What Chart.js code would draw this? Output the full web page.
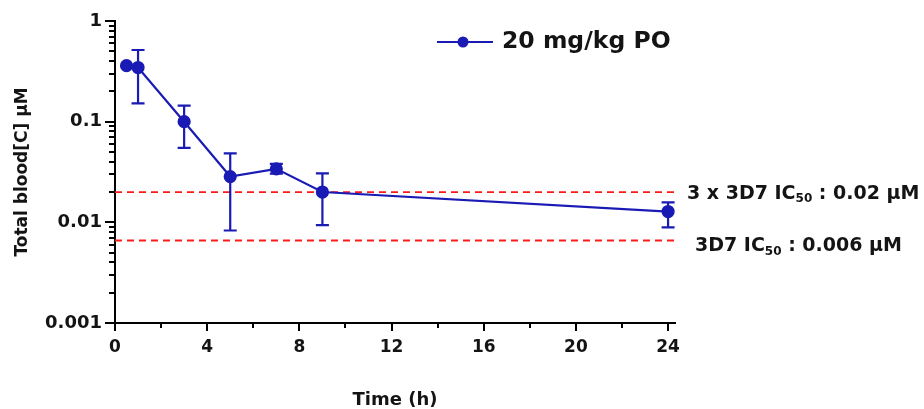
<!DOCTYPE html>
<html>
<head>
<meta charset="utf-8">
<script src="https://cdn.jsdelivr.net/npm/chart.js@4"></script>
<style>
  html, body { margin: 0; background: #fff; }
  #wrap { width: 924px; height: 409px; }
</style>
</head>
<body>
<div id="wrap"><canvas id="pkChart"></canvas></div>
<script>
// ------------------------------------------------------------------
// Data
// ------------------------------------------------------------------
const timeH     = [0.5, 1, 3, 5, 7, 9, 24];
const concMean  = [0.36, 0.345, 0.10, 0.0285, 0.034, 0.020, 0.0128];
const concLow   = [0.36, 0.152, 0.055, 0.0083, 0.0305, 0.0094, 0.0089];
const concHigh  = [0.36, 0.515, 0.144, 0.0485, 0.038, 0.0307, 0.0158];
const seriesLabel = '20 mg/kg PO';

const thresholds = [0.02, 0.0066];
const thresholdLabels = [
  ['3 x 3D7 IC', '50', ' : 0.02 μM'],
  ['3D7 IC', '50', ' : 0.006 μM'],
];

const xTicks = [0, 4, 8, 12, 16, 20, 24];
const xMinorTicks = [2, 6, 10, 14, 18, 22];
const yTicks = [0.001, 0.01, 0.1, 1];

const X_MAX = 24.3;
const BLUE = '#1a1ab4';
const RED = '#ff1a1a';
const INK = '#141414';
const FONT = '"DejaVu Sans", sans-serif';

// ------------------------------------------------------------------
// Extra drawing: error bars, minor ticks, legend, threshold labels
// ------------------------------------------------------------------
const extras = {
  id: 'extras',
  afterDatasetsDraw(chart) {
    const { ctx, scales: { x, y } } = chart;
    ctx.save();
    ctx.strokeStyle = BLUE;
    ctx.lineWidth = 2.2;
    timeH.forEach((t, i) => {
      if (concLow[i] === concHigh[i]) return;
      const px = x.getPixelForValue(t);
      const yl = y.getPixelForValue(concLow[i]);
      const yh = y.getPixelForValue(concHigh[i]);
      ctx.beginPath();
      ctx.moveTo(px, yl); ctx.lineTo(px, yh);
      ctx.moveTo(px - 6.5, yl); ctx.lineTo(px + 6.5, yl);
      ctx.moveTo(px - 6.5, yh); ctx.lineTo(px + 6.5, yh);
      ctx.stroke();
    });
    ctx.restore();
  },
  afterDraw(chart) {
    const { ctx, chartArea, scales: { x, y } } = chart;
    ctx.save();
    // minor ticks
    ctx.strokeStyle = '#000';
    ctx.lineWidth = 2;
    ctx.beginPath();
    [0.001, 0.01, 0.1].forEach(d => {
      for (let k = 2; k <= 9; k++) {
        const py = Math.round(y.getPixelForValue(k * d));
        ctx.moveTo(chartArea.left - 6, py);
        ctx.lineTo(chartArea.left, py);
      }
    });
    xMinorTicks.forEach(v => {
      const px = Math.round(x.getPixelForValue(v));
      ctx.moveTo(px, chartArea.bottom);
      ctx.lineTo(px, chartArea.bottom + 5);
    });
    ctx.stroke();

    // legend
    ctx.strokeStyle = BLUE;
    ctx.fillStyle = BLUE;
    ctx.lineWidth = 2;
    ctx.beginPath();
    ctx.moveTo(437, 42); ctx.lineTo(493, 42);
    ctx.stroke();
    ctx.beginPath();
    ctx.arc(463, 42, 5.5, 0, Math.PI * 2);
    ctx.fill();
    ctx.fillStyle = INK;
    ctx.font = `bold 23.5px ${FONT}`;
    ctx.textBaseline = 'middle';
    ctx.fillText(seriesLabel, 502, 42);

    // threshold labels
    const offsets = [2, 6];
    thresholds.forEach((v, i) => {
      const [pre, sub, post] = thresholdLabels[i];
      const py = y.getPixelForValue(v) + offsets[i];
      let px = i === 0 ? 687 : 695;
      ctx.font = `bold 19px ${FONT}`;
      ctx.fillText(pre, px, py);
      px += ctx.measureText(pre).width;
      ctx.font = `bold 12px ${FONT}`;
      ctx.fillText(sub, px, py + 5);
      px += ctx.measureText(sub).width;
      ctx.font = `bold 19px ${FONT}`;
      ctx.fillText(post, px, py);
    });
    ctx.restore();
  },
};

// ------------------------------------------------------------------
// Chart
// ------------------------------------------------------------------
const ctx = document.getElementById('pkChart');

new Chart(ctx, {
  type: 'scatter',
  data: {
    datasets: [
      {
        label: seriesLabel,
        data: timeH.map((t, i) => ({ x: t, y: concMean[i] })),
        showLine: true,
        borderColor: BLUE,
        backgroundColor: BLUE,
        borderWidth: 2.2,
        pointRadius: 5.5,
        pointHoverRadius: 5.5,
        order: 1,
      },
      ...thresholds.map(v => ({
        label: 'threshold',
        data: [{ x: 0, y: v }, { x: X_MAX, y: v }],
        showLine: true,
        borderColor: RED,
        borderWidth: 1.8,
        borderDash: [7, 5],
        pointRadius: 0,
        order: 2,
      })),
    ],
  },
  options: {
    responsive: true,
    maintainAspectRatio: false,
    animation: false,
    events: [],
    layout: { padding: { left: 0, top: 21, right: 249, bottom: 0 } },
    plugins: { legend: { display: false }, tooltip: { enabled: false } },
    scales: {
      x: {
        type: 'linear',
        min: 0,
        max: X_MAX,
        afterBuildTicks: s => { s.ticks = xTicks.map(v => ({ value: v })); },
        afterFit: s => { s.height = 86; },
        grid: { drawOnChartArea: false, tickLength: 8, color: '#000', lineWidth: 2 },
        border: { color: '#000', width: 2 },
        ticks: { color: INK, font: { family: FONT, size: 17, weight: 'bold' }, padding: 6, maxRotation: 0 },
        title: { display: true, text: 'Time (h)', color: INK, font: { family: FONT, size: 18, weight: 'bold' }, padding: { bottom: -2 } },
      },
      y: {
        type: 'logarithmic',
        min: 0.001,
        max: 1,
        afterBuildTicks: s => { s.ticks = yTicks.map(v => ({ value: v })); },
        afterFit: s => { s.width = 115; },
        grid: { drawOnChartArea: false, tickLength: 10, color: '#000', lineWidth: 2 },
        border: { color: '#000', width: 2 },
        ticks: { color: INK, font: { family: FONT, size: 18, weight: 'bold' }, padding: 3, callback: v => String(v) },
        title: { display: true, text: 'Total blood[C] μM', color: INK, font: { family: FONT, size: 17, weight: 'bold' }, padding: { top: 12 } },
      },
    },
  },
  plugins: [extras],
});
</script>
</body>
</html>
